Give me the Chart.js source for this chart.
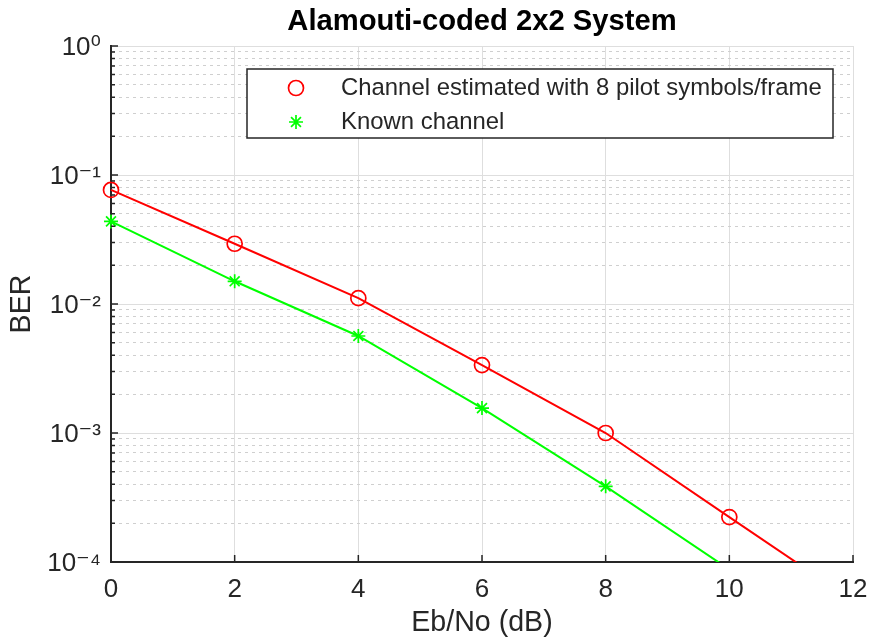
<!DOCTYPE html>
<html>
<head>
<meta charset="utf-8">
<title>Alamouti-coded 2x2 System</title>
<script src="https://cdn.jsdelivr.net/npm/chart.js@4.4.1/dist/chart.umd.min.js"></script>
<style>
    html, body { margin: 0; padding: 0; background: #fff; }
    #wrap { width: 870px; height: 643px; position: relative; }
</style>
</head>
<body>
<div id="wrap"><canvas id="berChart"></canvas></div>
<script>
// Eb/No points (dB) and measured BER for both receivers
const ebNo = [0, 2, 4, 6, 8, 10, 12];
const berEstimated = [0.0766, 0.0293, 0.0111, 0.00336, 0.00100, 0.000223, 0.000050];
const berKnown = [0.0437, 0.0150, 0.00565, 0.00156, 0.000386, 0.0000875, 0.000020];

const seriesNames = ['Channel estimated with 8 pilot symbols/frame', 'Known channel'];
const chartTitle = 'Alamouti-coded 2x2 System';

// Axis ticks
const xTicks = [0, 2, 4, 6, 8, 10, 12];
const yMajorTicks = [1e-4, 1e-3, 1e-2, 1e-1, 1];
const superDigits = { '0': '⁰', '1': '¹', '2': '²', '3': '³', '4': '⁴', '-': '⁻' };

const FONT = '"Liberation Sans", Arial, "DejaVu Sans", sans-serif';
const AXIS_COLOR = '#262626';

// minor grid values 2..9 x each decade
const yGridValues = [];
yMajorTicks.forEach((d, i) => {
    yGridValues.push(d);
    if (i < yMajorTicks.length - 1) {
        for (let m = 2; m <= 9; m++) yGridValues.push(d * m);
    }
});

function isDecade(v) {
    const e = Math.log10(v);
    return Math.abs(e - Math.round(e)) < 1e-6;
}

function decadeLabel(v) {
    const e = String(Math.round(Math.log10(v)));
    return '10' + e.split('').map(ch => superDigits[ch]).join('');
}

// Title, legend box and inward tick marks, MATLAB style
const matlabDecor = {
    id: 'matlabDecor',
    afterDraw(chart) {
        const ctx = chart.ctx;
        const area = chart.chartArea;
        const xs = chart.scales.x;
        const ys = chart.scales.y;

        ctx.save();
        // tick marks pointing into the plot
        ctx.strokeStyle = AXIS_COLOR;
        ctx.lineWidth = 1.5;
        ctx.beginPath();
        xTicks.forEach(v => {
            const px = xs.getPixelForValue(v);
            ctx.moveTo(px, area.bottom);
            ctx.lineTo(px, area.bottom - 7);
        });
        yGridValues.forEach(v => {
            const py = ys.getPixelForValue(v);
            ctx.moveTo(area.left, py);
            ctx.lineTo(area.left + (isDecade(v) ? 7 : 4), py);
        });
        ctx.stroke();

        // title
        ctx.fillStyle = '#000';
        ctx.font = 'bold 29.2px ' + FONT;
        ctx.textAlign = 'center';
        ctx.textBaseline = 'middle';
        ctx.fillText(chartTitle, (area.left + area.right) / 2, 22);

        // legend
        const lx = 247, ly = 69, lw = 586, lh = 69;
        ctx.fillStyle = '#fff';
        ctx.fillRect(lx, ly, lw, lh);
        ctx.strokeStyle = AXIS_COLOR;
        ctx.lineWidth = 1.5;
        ctx.strokeRect(lx, ly, lw, lh);

        const rows = [ly + 19, ly + 53];
        // red circle
        ctx.strokeStyle = '#ff0000';
        ctx.lineWidth = 1.7;
        ctx.beginPath();
        ctx.arc(296, rows[0], 7.5, 0, Math.PI * 2);
        ctx.stroke();
        // green asterisk
        ctx.strokeStyle = '#00ff00';
        ctx.beginPath();
        for (let k = 0; k < 4; k++) {
            const a = k * Math.PI / 4;
            ctx.moveTo(296 - 7 * Math.cos(a), rows[1] - 7 * Math.sin(a));
            ctx.lineTo(296 + 7 * Math.cos(a), rows[1] + 7 * Math.sin(a));
        }
        ctx.stroke();

        ctx.fillStyle = AXIS_COLOR;
        ctx.font = '23.9px ' + FONT;
        ctx.textAlign = 'left';
        ctx.fillText(seriesNames[0], 341, rows[0]);
        ctx.fillText(seriesNames[1], 341, rows[1]);
        ctx.restore();
    }
};

const clipArea = { left: 12, top: 0, right: 0, bottom: 0 };

new Chart(document.getElementById('berChart'), {
    type: 'line',
    data: {
        labels: ebNo,
        datasets: [{
            label: seriesNames[0],
            data: ebNo.map((x, i) => ({ x: x, y: berEstimated[i] })),
            borderColor: '#ff0000',
            borderWidth: 2,
            pointStyle: 'circle',
            pointRadius: 7.5,
            pointBorderWidth: 1.7,
            pointBorderColor: '#ff0000',
            pointBackgroundColor: 'rgba(0,0,0,0)',
            tension: 0,
            clip: clipArea
        }, {
            label: seriesNames[1],
            data: ebNo.map((x, i) => ({ x: x, y: berKnown[i] })),
            borderColor: '#00ff00',
            borderWidth: 2,
            pointStyle: 'star',
            pointRadius: 7,
            pointBorderWidth: 1.7,
            pointBorderColor: '#00ff00',
            pointBackgroundColor: '#00ff00',
            tension: 0,
            clip: clipArea
        }]
    },
    options: {
        responsive: true,
        maintainAspectRatio: false,
        animation: false,
        events: [],
        layout: { padding: { top: 46, right: 17, left: 0, bottom: 0 } },
        plugins: {
            legend: { display: false },
            title: { display: false },
            tooltip: { enabled: false }
        },
        scales: {
            x: {
                type: 'linear',
                min: 0,
                max: 12,
                afterBuildTicks: scale => { scale.ticks = xTicks.map(v => ({ value: v })); },
                afterFit: scale => {
                    scale.height = 81;
                    scale.paddingLeft = 0;
                    scale.paddingRight = 0;
                },
                ticks: {
                    autoSkip: false,
                    maxRotation: 0,
                    padding: 12,
                    color: AXIS_COLOR,
                    font: { family: FONT, size: 26 }
                },
                grid: { color: '#dedede', lineWidth: 1, drawTicks: false },
                border: { display: true, color: AXIS_COLOR, width: 2 },
                title: {
                    display: true,
                    text: 'Eb/No (dB)',
                    color: AXIS_COLOR,
                    font: { family: FONT, size: 28.6 },
                    padding: { top: 0, bottom: 3 }
                }
            },
            y: {
                type: 'logarithmic',
                min: 1e-4,
                max: 1,
                afterBuildTicks: scale => { scale.ticks = yGridValues.map(v => ({ value: v, major: isDecade(v) })); },
                afterFit: scale => { scale.width = 111; },
                ticks: {
                    autoSkip: false,
                    padding: 10,
                    labelOffset: 2,
                    color: AXIS_COLOR,
                    font: { family: FONT, size: 26 },
                    callback: v => isDecade(v) ? decadeLabel(v) : ''
                },
                grid: {
                    color: c => (c.tick && !isDecade(c.tick.value)) ? '#cfcfcf' : '#dedede',
                    lineWidth: 1,
                    drawTicks: false
                },
                border: {
                    display: true,
                    color: AXIS_COLOR,
                    width: 2,
                    dash: c => (c.tick && !isDecade(c.tick.value)) ? [3, 4] : []
                },
                title: {
                    display: true,
                    text: 'BER',
                    color: AXIS_COLOR,
                    font: { family: FONT, size: 28.6 },
                    padding: { top: 5, bottom: 0 }
                }
            }
        }
    },
    plugins: [matlabDecor]
});
</script>
</body>
</html>
